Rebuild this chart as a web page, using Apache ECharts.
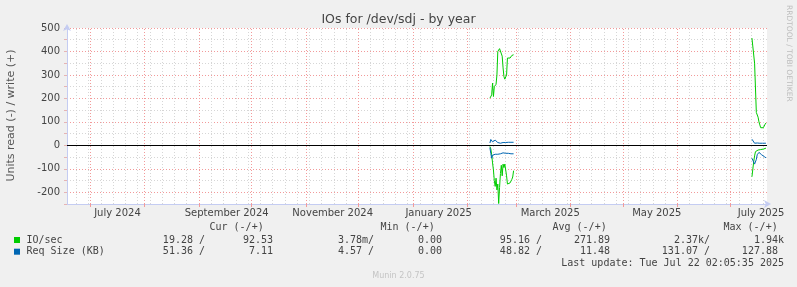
<!DOCTYPE html>
<html><head><meta charset="utf-8">
<script src="https://cdn.jsdelivr.net/npm/echarts@6/dist/echarts.min.js"></script>
<style>html,body{margin:0;padding:0;background:#f0f0f0}#c{width:797px;height:287px}</style>
</head><body><div id="c"></div>
<script>
// ---------- data ----------
const chartTitle = 'IOs for /dev/sdj - by year';
const yAxisTitle = 'Units read (-) / write (+)';
const timeStart = '2024-06-17 16:50:00';
const timeEnd = '2025-07-22 02:05:35';

const xLabelDates = ['2024-07-16 12:00','2024-09-16 20:00','2024-11-16 07:00','2025-01-15 18:00','2025-03-20 10:00','2025-05-20 05:00','2025-07-18 17:00'];
const xLabelTexts = ['July 2024','September 2024','November 2024','January 2025','March 2025','May 2025','July 2025'];
const monthStarts = ['2024-07-01','2024-08-01','2024-09-01','2024-10-01','2024-11-01','2024-12-01','2025-01-01','2025-02-01','2025-03-01','2025-04-01','2025-05-01','2025-06-01','2025-07-01'];

const febTimes = ['2025-02-14 00:00','2025-02-14 12:00','2025-02-15 00:00','2025-02-15 12:00','2025-02-16 00:00','2025-02-16 12:00','2025-02-17 00:00','2025-02-17 12:00','2025-02-18 00:00','2025-02-18 12:00','2025-02-19 00:00','2025-02-19 12:00','2025-02-20 00:00','2025-02-20 12:00','2025-02-21 00:00','2025-02-21 12:00','2025-02-22 00:00','2025-02-22 12:00','2025-02-23 00:00','2025-02-23 12:00','2025-02-24 00:00','2025-02-24 12:00','2025-02-25 00:00','2025-02-25 12:00','2025-02-26 00:00','2025-02-26 12:00','2025-02-27 00:00','2025-02-27 12:00'];
const ioWriteFeb = [201,201,215,265,208,250,250,260,300,400,408,412,416,405,380,330,293,282,279,300,372,372,372,372,375,383,386,386];
const ioReadFeb = [-5,-15,-40,-75,-105,-150,-175,-140,-190,-165,-248,-180,-120,-85,-130,-80,-95,-80,-85,-130,-165,-172,-165,-160,-160,-145,-135,-108];
const reqWriteFeb = [10,25,30,15,9,18,22,15,16,12,10,10,9,10,11,12,12,12,12,12,12,13,13,13,13,13,13,13];
const reqReadFeb = [-10,-35,-55,-42,-45,-40,-38,-37,-40,-38,-38,-37,-36,-34,-33,-32,-31,-33,-34,-33,-33,-34,-35,-34,-36,-37,-36,-36];

const julTimes = ['2025-07-13 12:00','2025-07-14 00:00','2025-07-14 12:00','2025-07-15 00:00','2025-07-15 12:00','2025-07-16 00:00','2025-07-16 12:00','2025-07-17 00:00','2025-07-17 12:00','2025-07-18 00:00','2025-07-18 12:00','2025-07-19 00:00','2025-07-19 12:00','2025-07-20 00:00','2025-07-20 12:00','2025-07-21 00:00','2025-07-21 12:00'];
const ioWriteJul = [457,457,457,350,350,140,135,120,100,87,75,68,70,75,78,90,95];
const ioReadJul = [-134,-134,-70,-45,-27,-24,-22,-20,-20,-19,-18,-17,-16,-16,-14,-13,-12];
const reqWriteJul = [26,22,20,9,15,5,10,9,9,9,9,9,9,9,9,9,9];
const reqReadJul = [-55,-50,-56,-80,-80,-60,-40,-33,-30,-31,-35,-40,-42,-44,-48,-53,-53];
const gapTime = '2025-04-15 00:00';

const legendNames = ['IO/sec','Req Size (KB)'];
const legendHeaders = ['Cur (-/+)','Min (-/+)','Avg (-/+)','Max (-/+)'];
const curRead = ['19.28 /','51.36 /'];
const curWrite = ['92.53','7.11'];
const minRead = ['3.78m/','4.57 /'];
const minWrite = ['0.00','0.00'];
const avgRead = ['95.16 /','48.82 /'];
const avgWrite = ['271.89','11.48'];
const maxRead = ['2.37k/','131.07 /'];
const maxWrite = ['1.94k','127.88 '];
const lastUpdate = 'Last update: Tue Jul 22 02:05:35 2025';
const footer = 'Munin 2.0.75';
const sideText = 'RRDTOOL / TOBI OETIKER';

// ---------- build ----------
const GREEN = '#00cc00', BLUE = '#0066b3';
function ts(s) {
  const m = s.match(/(\d+)-(\d+)-(\d+)(?:[ T](\d+):(\d+)(?::(\d+))?)?/);
  return new Date(+m[1], +m[2] - 1, +m[3], +(m[4] || 0), +(m[5] || 0), +(m[6] || 0)).getTime();
}
function seg(t1, v1, t2, v2) {
  return t1.map((t, i) => [ts(t), v1[i]]).concat([[ts(gapTime), '-']]).concat(t2.map((t, i) => [ts(t), v2[i]]));
}
const weekLines = [];
for (let k = 0; ; k++) {
  const d = new Date(2024, 5, 23 + 7 * k);
  if (d.getTime() > ts(timeEnd)) break;
  weekLines.push(d.getTime());
}
const labelVals = xLabelDates.map(ts);
const labelMap = {};
labelVals.forEach((v, i) => { labelMap[v] = xLabelTexts[i]; });

const MINOR = '#d6d6d6', MAJOR = '#f29a9a';
const gridMarks = weekLines.map(t => ({ xAxis: t, lineStyle: { color: MINOR, type: [1, 2], width: 1 } }))
  .concat(monthStarts.map(t => ({ xAxis: ts(t), lineStyle: { color: MAJOR, type: [1, 2], width: 1 } })));

function lineSeries(name, data, color) {
  return { name, type: 'line', data, showSymbol: false, symbol: 'none', connectNulls: false,
    lineStyle: { color, width: 1 }, itemStyle: { color }, z: 5, animation: false, silent: true };
}

const txt = (x, y, text, opt) => ({ type: 'text', x, y, silent: true,
  style: Object.assign({ text, font: '10px "DejaVu Sans Mono"', fill: '#444', textAlign: 'left', textVerticalAlign: 'middle' }, opt || {}) });

const graphics = [
  txt(398.5, 19.5, chartTitle, { font: '12.5px "DejaVu Sans"', fill: '#444', textAlign: 'center' }),
  { type: 'text', x: 11, y: 115.5, rotation: Math.PI / 2, silent: true,
    style: { text: yAxisTitle, font: '11px "DejaVu Sans"', fill: '#555', textAlign: 'center', textVerticalAlign: 'middle' } },
  { type: 'text', x: 788.5, y: 5, rotation: -Math.PI / 2, silent: true,
    style: { text: sideText, font: '7.5px "DejaVu Sans"', fill: '#bdbdbd', textAlign: 'left', textVerticalAlign: 'middle' } },
  txt(209.5, 227.3, legendHeaders[0]), txt(380.5, 227.3, legendHeaders[1]),
  txt(552.5, 227.3, legendHeaders[2]), txt(723.5, 227.3, legendHeaders[3]),
  { type: 'rect', shape: { x: 14, y: 237, width: 6, height: 6 }, style: { fill: GREEN }, silent: true },
  { type: 'rect', shape: { x: 14, y: 248.7, width: 6, height: 6 }, style: { fill: BLUE }, silent: true },
  txt(784, 263.3, lastUpdate, { textAlign: 'right' }),
  txt(398.5, 276, footer, { font: '8px "DejaVu Sans"', fill: '#c4c4c4', textAlign: 'center' })
];
const rowY = [240, 251.7];
const cols = [[curRead, 205], [curWrite, 273], [minRead, 374], [minWrite, 442], [avgRead, 542], [avgWrite, 610], [maxRead, 710], [maxWrite, 784]];
legendNames.forEach((n, r) => {
  graphics.push(txt(26.5, rowY[r], n));
  cols.forEach(([arr, x]) => graphics.push(txt(x, rowY[r], arr[r], { textAlign: 'right' })));
});

const chart = echarts.init(document.getElementById('c'), null, { renderer: 'canvas' });
chart.setOption({
  backgroundColor: '#f0f0f0',
  animation: false,
  grid: { left: 67, right: 30, top: 28, bottom: 83, show: true, backgroundColor: '#ffffff', borderWidth: 0 },
  xAxis: {
    type: 'value', min: ts(timeStart), max: ts(timeEnd), scale: true,
    axisLine: { show: true, onZero: false, lineStyle: { color: '#c4ccf2', width: 1 }, symbol: ['none', 'arrow'], symbolSize: [6, 7], symbolOffset: [0, 4] },
    axisTick: { show: true, length: 3, customValues: monthStarts.map(ts), lineStyle: { color: MAJOR } },
    axisLabel: { customValues: labelVals, formatter: v => labelMap[v] || '',
      fontFamily: 'DejaVu Sans', fontSize: 10, color: '#444', margin: 4, hideOverlap: false, showMinLabel: true, showMaxLabel: true },
    splitLine: { show: false }
  },
  yAxis: {
    type: 'value', min: -250, max: 500, interval: 50,
    axisLine: { show: true, onZero: false, lineStyle: { color: '#c4ccf2', width: 1 }, symbol: ['none', 'arrow'], symbolSize: [6, 7], symbolOffset: [0, 4] },
    axisTick: { show: true, length: 3, lineStyle: { color: '#e6b4b4' } },
    axisLabel: { formatter: v => (v % 100 === 0 ? String(v) : ''), fontFamily: 'DejaVu Sans', fontSize: 10, color: '#444', margin: 7 },
    splitLine: { show: true, lineStyle: { color: [MINOR, MAJOR], type: [1, 2], width: 1 } }
  },
  series: [
    { type: 'line', data: [], z: 1, silent: true, animation: false,
      markLine: { silent: true, symbol: ['none', 'none'], label: { show: false }, animation: false, data: gridMarks } },
    { type: 'line', data: [], z: 4, silent: true, animation: false,
      markLine: { silent: true, symbol: ['none', 'none'], label: { show: false }, animation: false,
        data: [{ yAxis: 0, lineStyle: { color: '#000', type: 'solid', width: 1 } }] } },
    lineSeries('IO/sec write', seg(febTimes, ioWriteFeb, julTimes, ioWriteJul), GREEN),
    lineSeries('IO/sec read', seg(febTimes, ioReadFeb, julTimes, ioReadJul), GREEN),
    lineSeries('Req Size write', seg(febTimes, reqWriteFeb, julTimes, reqWriteJul), BLUE),
    lineSeries('Req Size read', seg(febTimes, reqReadFeb, julTimes, reqReadJul), BLUE)
  ],
  graphic: graphics
});
</script></body></html>
